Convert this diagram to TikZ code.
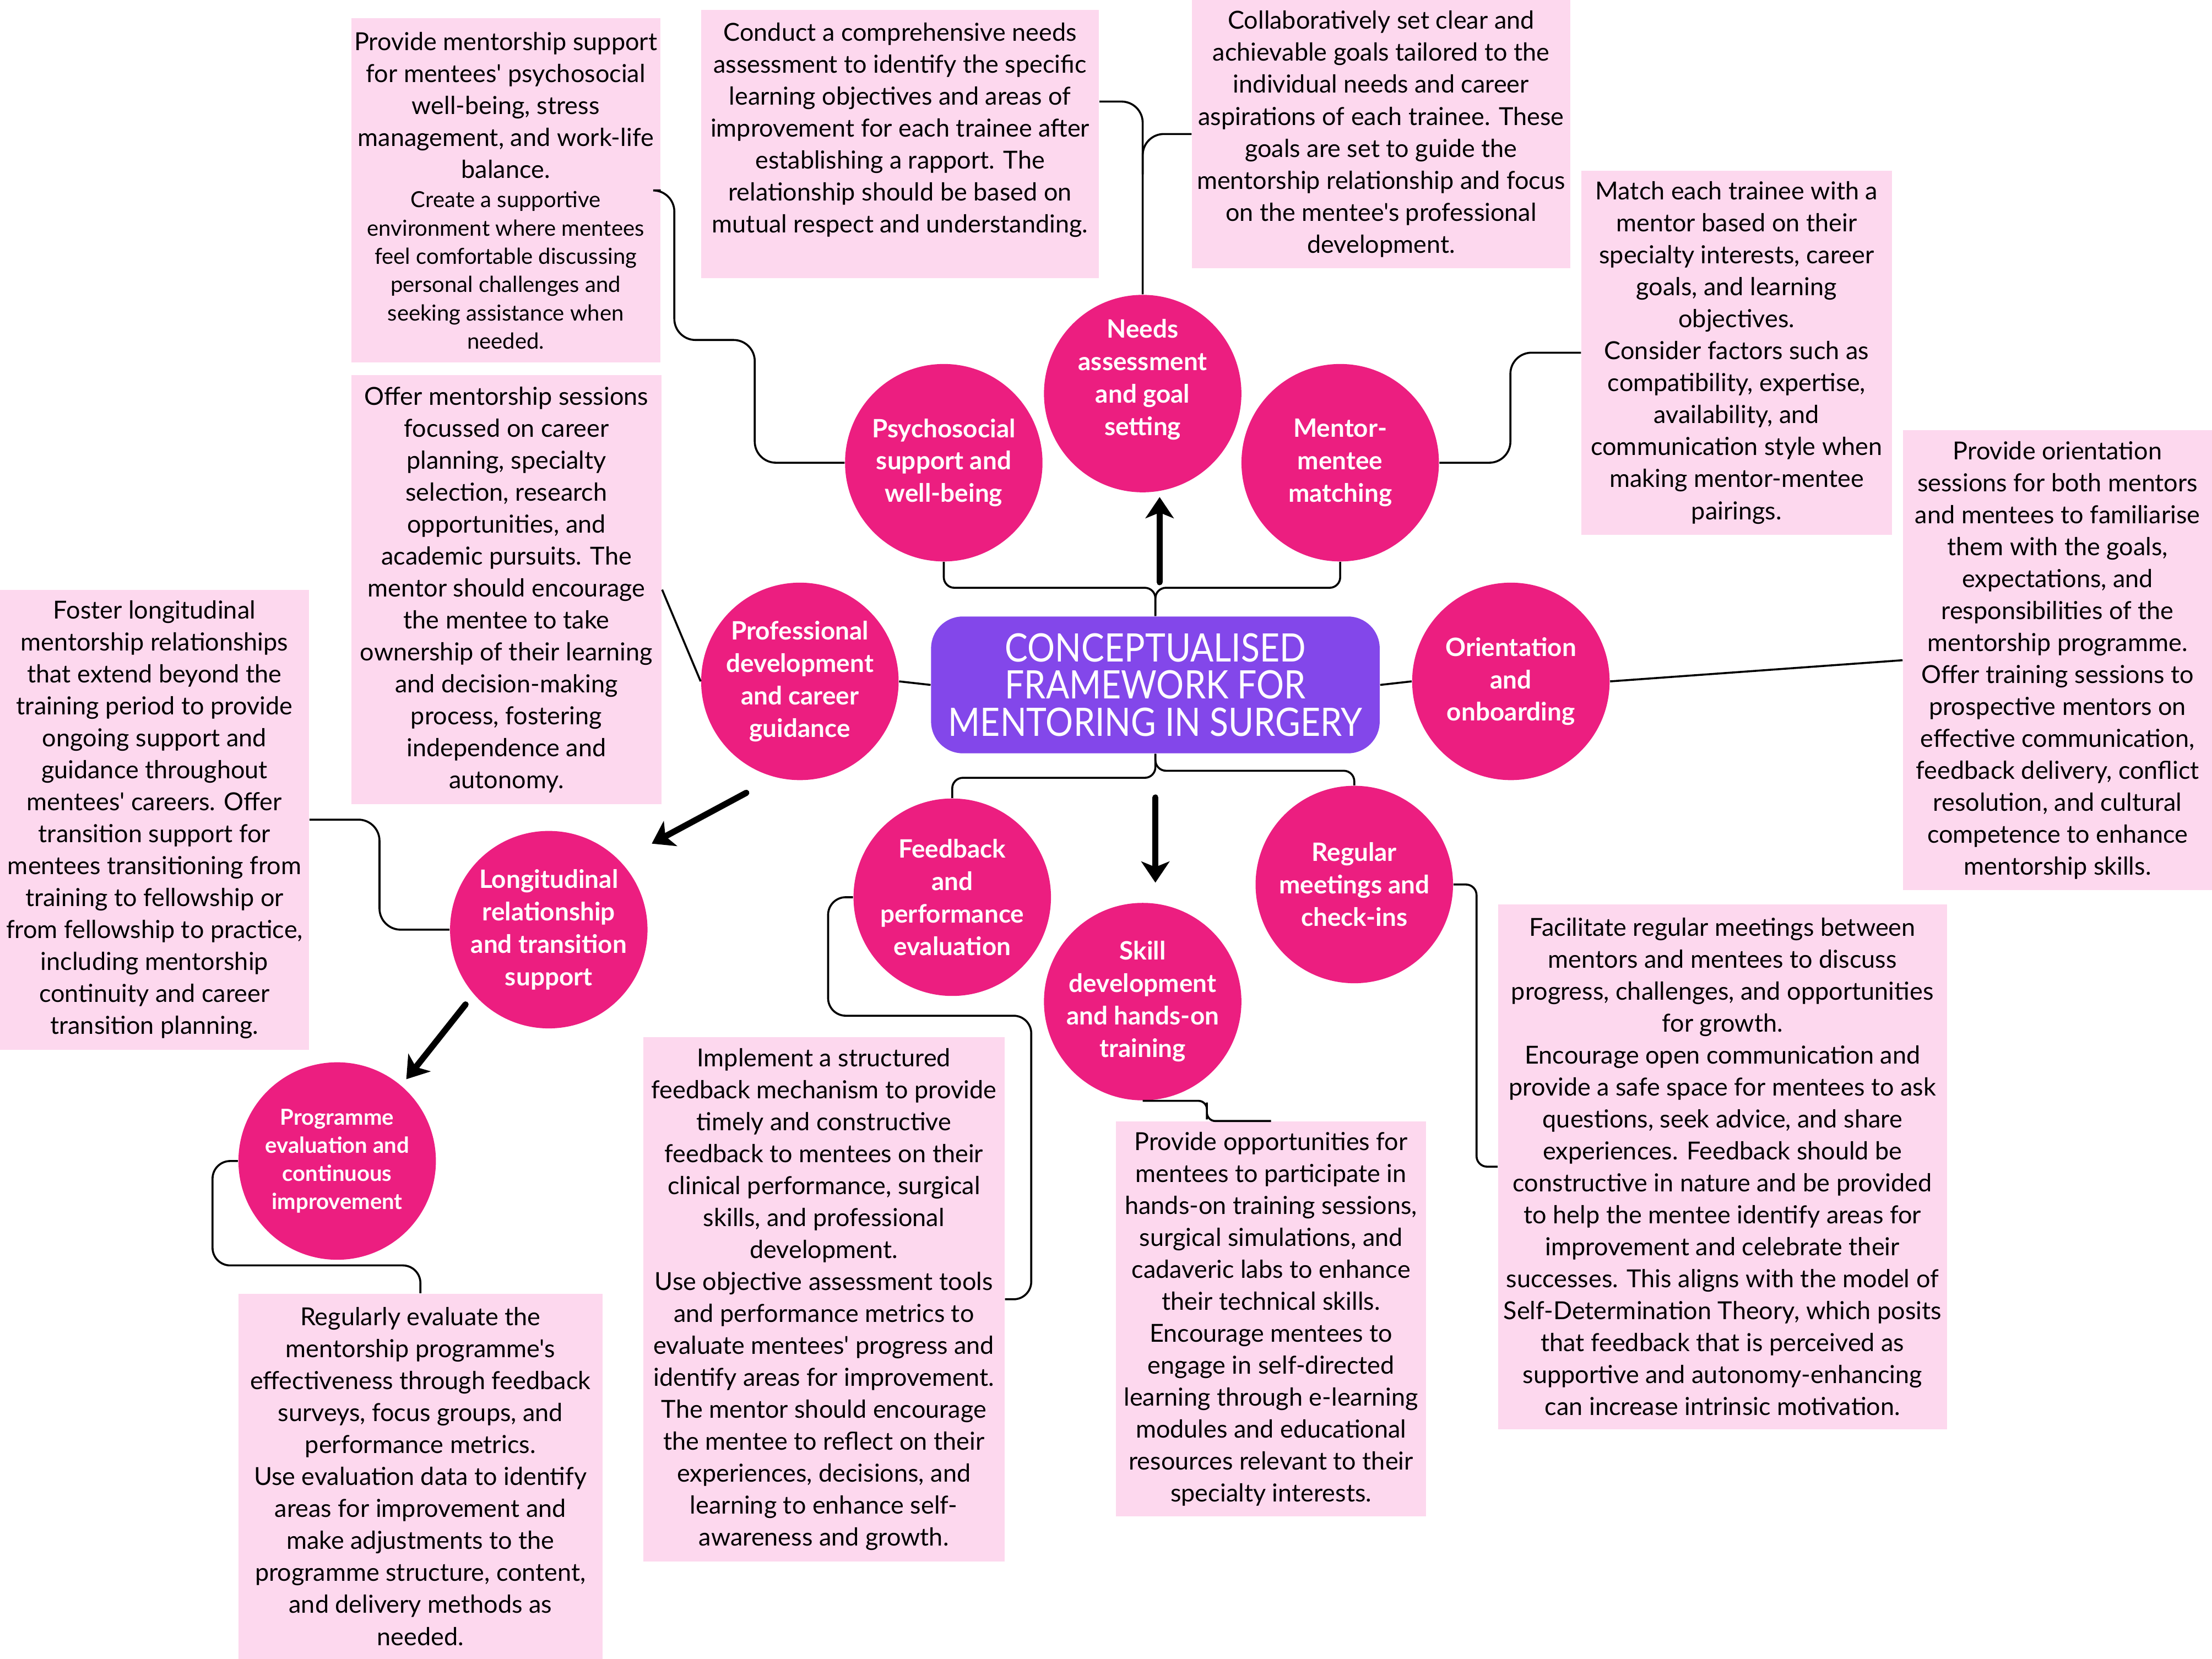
\documentclass[tikz,border=0pt]{standalone}
\usepackage{fontspec}
\setmainfont{Lato}[Ligatures=TeXOff]
\newfontfamily\titlefont{Lato}[FakeStretch=0.88]
\usepackage{tikz}
\usetikzlibrary{arrows.meta, positioning, calc}
\definecolor{circlepink}{HTML}{EC1E80}
\definecolor{boxpink}{HTML}{FDD8EE}
\definecolor{framepurple}{HTML}{8347EA}
\newcommand{\sm}{\fontsize{8.9}{11.4}\selectfont}

\begin{document}
\begin{tikzpicture}[x=0.02cm, y=-0.02cm, >=Stealth,
    topic/.style={circle, fill=circlepink, minimum size=2.8cm, inner sep=0pt,
        align=center, text=white, font=\bfseries\fontsize{10.2}{13.1}\selectfont},
    infobox/.style={rectangle, fill=boxpink, inner sep=0pt, align=center,
        font=\fontsize{10}{12.9}\selectfont},
    boxsize/.style 2 args={minimum width=#1*0.02cm, minimum height=#2*0.02cm},
    link/.style={draw=black, line width=0.8pt, rounded corners=0.3cm},
    bigarrow/.style={line width=2.5pt, line cap=round,
        -{Stealth[length=0.3cm, width=0.4cm, inset=0.08cm]}}]
    \useasboundingbox (0,0) rectangle (1568,1176);

    % centre
    \node[fill=framepurple, rounded corners=0.45cm, boxsize={318}{97}, inner sep=0pt,
        align=center, text=white, font=\titlefont\fontsize{15.8}{15}\selectfont]
        (title) at (819,485.5) {CONCEPTUALISED\\FRAMEWORK FOR\\MENTORING IN SURGERY};

    \begin{scope}[every node/.style={topic}]
        \node (needs) at (810,279) {Needs\\assessment\\and goal\\setting\\ \mbox{}};
        \node (psycho) at (669,328) {Psychosocial\\support and\\well-being};
        \node (mentor) at (950,328) {Mentor-\\mentee\\matching};
        \node (prof) at (567,483) {Professional\\development\\and career\\guidance};
        \node (orient) at (1071,483) {Orientation\\and\\onboarding};
        \node (feed) at (675,636) {Feedback\\and\\performance\\evaluation};
        \node (regular) at (960,627) {Regular\\meetings and\\check-ins};
        \node (skill) at (810,710) {Skill\\development\\and hands-on\\training};
        \node (long) at (389,659) {Longitudinal\\relationship\\and transition\\support};
        \node[font=\bfseries\fontsize{8.9}{11.4}\selectfont] (prog) at (239,823)
            {Programme\\evaluation and\\continuous\\improvement};
    \end{scope}

    \begin{scope}[every node/.style={infobox}]
        \node[boxsize={219}{244}] (psybox) at (358.5,135) {Provide mentorship support\\for mentees' psychosocial\\well-being, stress\\management, and work-life\\balance.\\[-1pt]
            \sm Create a supportive\\[-1.5pt]\sm environment where mentees\\[-1.5pt]\sm feel comfortable discussing\\[-1.5pt]\sm personal challenges and\\[-1.5pt]\sm seeking assistance when\\[-1.5pt]\sm needed.};
        \node[boxsize={282}{190}] (needsbox) at (638,102) {Conduct a comprehensive needs\\assessment to identify the specific\\learning objectives and areas of\\improvement for each trainee after\\establishing a rapport. The\\relationship should be based on\\mutual respect and understanding.\\ \mbox{}};
        \node[boxsize={268}{190}] (goalbox) at (979,95) {Collaboratively set clear and\\achievable goals tailored to the\\individual needs and career\\aspirations of each trainee. These\\goals are set to guide the\\mentorship relationship and focus\\on the mentee's professional\\development.};
        \node[boxsize={220}{258}] (matchbox) at (1231,250) {Match each trainee with a\\mentor based on their\\specialty interests, career\\goals, and learning\\objectives.\\Consider factors such as\\compatibility, expertise,\\availability, and\\communication style when\\making mentor-mentee\\pairings.};
        \node[boxsize={219}{326}] (orientbox) at (1458.5,468) {Provide orientation\\sessions for both mentors\\and mentees to familiarise\\them with the goals,\\expectations, and\\responsibilities of the\\mentorship programme.\\Offer training sessions to\\prospective mentors on\\effective communication,\\feedback delivery, conflict\\resolution, and cultural\\competence to enhance\\mentorship skills.};
        \node[boxsize={220}{304}] (profbox) at (359,418) {Offer mentorship sessions\\focussed on career\\planning, specialty\\selection, research\\opportunities, and\\academic pursuits. The\\mentor should encourage\\the mentee to take\\ownership of their learning\\and decision-making\\process, fostering\\independence and\\autonomy.};
        \node[boxsize={219}{326}] (longbox) at (109.5,581) {Foster longitudinal\\mentorship relationships\\that extend beyond the\\training period to provide\\ongoing support and\\guidance throughout\\mentees' careers. Offer\\transition support for\\mentees transitioning from\\training to fellowship or\\from fellowship to practice,\\including mentorship\\continuity and career\\transition planning.};
        \node[boxsize={258}{259}] (progbox) at (298,1046.5) {Regularly evaluate the\\mentorship programme's\\effectiveness through feedback\\surveys, focus groups, and\\performance metrics.\\Use evaluation data to identify\\areas for improvement and\\make adjustments to the\\programme structure, content,\\and delivery methods as\\needed.};
        \node[boxsize={256}{372}] (feedbox) at (584,921) {Implement a structured\\feedback mechanism to provide\\timely and constructive\\feedback to mentees on their\\clinical performance, surgical\\skills, and professional\\development.\\Use objective assessment tools\\and performance metrics to\\evaluate mentees' progress and\\identify areas for improvement.\\The mentor should encourage\\the mentee to reflect on their\\experiences, decisions, and\\learning to enhance self-\\awareness and growth.};
        \node[boxsize={220}{280}] (skillbox) at (901,935) {Provide opportunities for\\mentees to participate in\\hands-on training sessions,\\surgical simulations, and\\cadaveric labs to enhance\\their technical skills.\\Encourage mentees to\\engage in self-directed\\learning through e-learning\\modules and educational\\resources relevant to their\\specialty interests.};
        \node[boxsize={318}{372}] (regbox) at (1221,827) {Facilitate regular meetings between\\mentors and mentees to discuss\\progress, challenges, and opportunities\\for growth.\\Encourage open communication and\\provide a safe space for mentees to ask\\questions, seek advice, and share\\experiences. Feedback should be\\constructive in nature and be provided\\to help the mentee identify areas for\\improvement and celebrate their\\successes. This aligns with the model of\\Self-Determination Theory, which posits\\that feedback that is perceived as\\supportive and autonomy-enhancing\\can increase intrinsic motivation.};
    \end{scope}

    % branches round the centre
    \draw[link, rounded corners=0.15cm] (title.north) -- ++(0,-20) -| (psycho.south);
    \draw[link, rounded corners=0.15cm] (title.north) -- ++(0,-20) -| (mentor.south);
    \draw[link, rounded corners=0.15cm] (title.south) -- ++(0,17) -| (feed.north);
    \draw[link, rounded corners=0.15cm] (title.south) -- ++(0,12) -| (regular.north);
    \draw[link] (title.west) -- (prof.east);
    \draw[link] (title.east) -- (orient.west);

    % topics to their boxes
    \draw[link] (psycho.west) -| (535,241) -| (478,135) -- (psybox.east |- {(0,135)});
    \draw[link] (needs.north) |- (needsbox.east |- {(0,72)});
    \draw[link] ([shift={(0,-85)}]needs.north) |- (goalbox.west);
    \draw[link] (mentor.east) -| ($(matchbox.west)+(-50,0)$) -- (matchbox.west);
    \draw[link] (orient.east) -- (orientbox.west);
    \draw[link] (prof.west) -- (profbox.east);
    \draw[link] (longbox.east) -| ($(longbox.east)!.5!(long.west)$) |- (long.west);
    \draw[link, rounded corners=0.25cm] (prog.west) -| ++(-18,74) -| (progbox.north);
    \draw[link, rounded corners=0.25cm] (feed.west) -| (587,720) -| (731,921) -- (feedbox.east);
    \draw[link, rounded corners=0.12cm] (skill.south) -| ($(skill.south)!.5!(skillbox.north)$) |- (skillbox.north);
    \draw[link, rounded corners=0.15cm] (regular.east) -| ($(regbox.west)+(-15,0)$) -- (regbox.west);

    % thick arrows
    \draw[bigarrow] ([shift={(3,-24)}]title.north) -- ([shift={(12,3)}]needs.south);
    \draw[bigarrow] ([shift={(0,31)}]title.south) -- ([shift={(9,-14)}]skill.north);
    \draw[bigarrow] ([shift={(-38,79)}]prof.center) -- ([shift={(73,-61)}]long.center);
    \draw[bigarrow] ([shift={(-59,53)}]long.center) -- ([shift={(49,-58)}]prog.center);
\end{tikzpicture}
\end{document}
